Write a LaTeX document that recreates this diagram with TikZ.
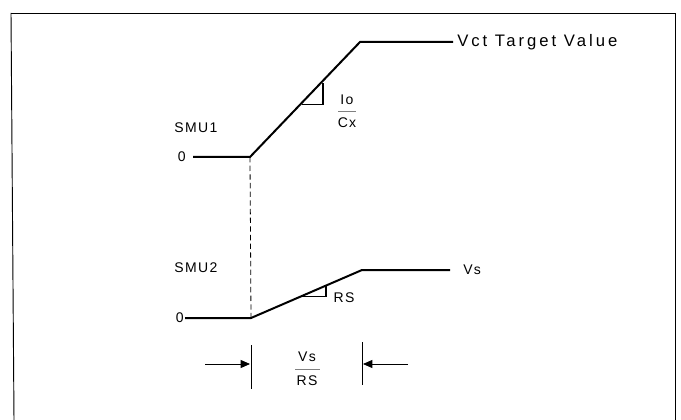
\documentclass[tikz,border=0pt]{standalone}
\usepackage{fontspec}
\setmainfont{Liberation Sans}[LetterSpace=10]
\usetikzlibrary{arrows.meta}
\begin{document}
\begin{tikzpicture}[x=0.75pt,y=-0.75pt,
  curve/.style={line width=1.5pt,line join=miter},
  frame/.style={line width=0.7pt},
  thin/.style={line width=0.6pt},
  tri/.style={line width=1.1pt},
  lbl/.style={inner sep=0pt,font=\fontsize{10.5}{12}\selectfont},
  big/.style={inner sep=0pt,font=\fontsize{12.5}{14}\selectfont\addfontfeature{LetterSpace=18}},
  dim/.style={line width=0.6pt,-{Triangle[length=7pt,width=6pt]}}]
\useasboundingbox (0,0) rectangle (681,420);
% frame
\draw[frame] (11,13) -- (675,13) -- (675,420);
\draw[frame] (11,13) -- (14,420);
% SMU1 curve
\coordinate (a0) at (193,157);
\coordinate (a1) at (250,157);
\coordinate (a2) at (360,42);
\coordinate (a3) at (453,42);
\draw[curve] (a0) -- (a1) -- (a2) -- (a3);
\node[lbl,anchor=east] (z1) at (186,157) {0};
\node[lbl] (smu1) at (196,128) {SMU1};
\node[big,anchor=west] (vct) at (457,42) {Vct Target Value};
% slope triangle 1
\coordinate (t1a) at (302,104.6);
\coordinate (t1b) at (323,82.6);
\coordinate (t1c) at (323,104.6);
\draw[tri] (t1a) -- (t1c) -- (t1b);
\node[lbl] (io) at (347,100) {Io};
\node[lbl] (cx) at (347,123) {Cx};
\draw[thin,gray] (338,111) -- (356,111);
% SMU2 curve
\coordinate (b0) at (185,318);
\coordinate (b1) at (251,318);
\coordinate (b2) at (362,270);
\coordinate (b3) at (450,270);
\draw[curve] (b0) -- (b1) -- (b2) -- (b3);
\node[lbl,anchor=east] (z2) at (184,318) {0};
\node[lbl] (smu2) at (196,268) {SMU2};
\node[lbl,anchor=west] (vs) at (463,270) {Vs};
% slope triangle 2
\coordinate (t2a) at (301,296.4);
\coordinate (t2b) at (326,285.6);
\coordinate (t2c) at (326,296.4);
\draw[tri] (t2a) -- (t2c) -- (t2b);
\node[lbl] (rs) at (344,298) {RS};
% dashed link
\draw[thin,dashed,dash pattern=on 4pt off 2.5pt] (a1) -- (b1);
% dimension arrows
\coordinate (l0) at (205,364);
\coordinate (l1) at (250,364);
\coordinate (r0) at (408,364);
\coordinate (r1) at (363,364);
\draw[dim] (l0) -- (l1);
\draw[dim] (r0) -- (r1);
\coordinate (lb0) at (251,345);
\coordinate (lb1) at (251,389);
\coordinate (rb0) at (362,342);
\coordinate (rb1) at (362,385);
\draw[thin] (lb0) -- (lb1);
\draw[thin] (rb0) -- (rb1);
\node[lbl] (fvs) at (307,357) {Vs};
\node[lbl] (frs) at (307,381) {RS};
\draw[thin,gray] (295,369) -- (320,369);
\end{tikzpicture}
\end{document}
